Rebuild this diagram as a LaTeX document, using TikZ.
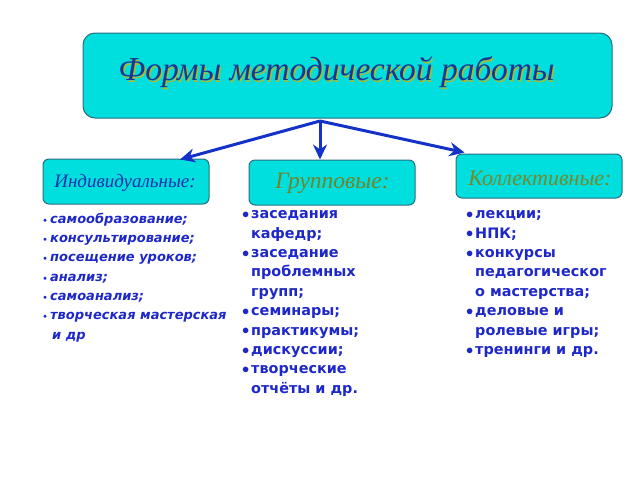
\documentclass[tikz,border=0pt]{standalone}
\usepackage{fontspec}
\setmainfont{Liberation Serif}
\newfontfamily\listfont{DejaVu Sans}
\usetikzlibrary{arrows.meta}
\definecolor{boxfill}{RGB}{0,222,222}
\definecolor{boxedge}{RGB}{40,110,130}
\definecolor{arrowblue}{RGB}{20,50,200}
\definecolor{titleblue}{RGB}{25,55,140}
\definecolor{shadowgreen}{RGB}{160,190,60}
\definecolor{headblue}{RGB}{25,50,170}
\definecolor{olive}{RGB}{120,135,40}
\definecolor{listblue}{RGB}{30,40,200}
\newcommand{\bl}{\makebox[7pt][l]{\raisebox{1pt}{\scriptsize$\bullet$}}}
\newcommand{\bb}{\makebox[9pt][l]{\raisebox{0.3pt}{\Large$\bullet$}}}
\newcommand{\ii}{\hspace*{9pt}}
\tikzset{
  panel/.style={draw=boxedge, line width=1pt, fill=boxfill, rounded corners=6pt, inner sep=0pt},
  arr/.style={draw=arrowblue, line width=3pt, -{Stealth[length=15pt,width=14pt]}},
  listtext/.style={anchor=north west, inner sep=0pt, align=left, text=listblue, font=\listfont\bfseries\fontsize{14.4}{19.4}\selectfont},
  headtext/.style={inner sep=0pt, font=\itshape\fontsize{22}{24}\selectfont},
}
\begin{document}
\begin{tikzpicture}[x=1pt,y=-1pt]
\useasboundingbox (0,0) rectangle (640,480);
% top box
\node[panel, rounded corners=12pt, minimum width=529pt, minimum height=85pt] (title) at (347.5,75.5) {};
\node[headtext, font=\itshape\fontsize{33.5}{36}\selectfont, text=shadowgreen] (titlesh) at (338,74) {Формы методической работы};
\node[headtext, font=\itshape\fontsize{33.5}{36}\selectfont, text=titleblue] (titletx) at (336.5,72.5) {Формы методической работы};
% sub boxes
\node[panel, minimum width=166pt, minimum height=45pt] (ind) at (126,181.5) {};
\node[panel, minimum width=166pt, minimum height=45pt] (grp) at (332,182.5) {};
\node[panel, minimum width=166pt, minimum height=44pt] (kol) at (539,176) {};
\node[headtext, font=\itshape\fontsize{19}{22}\selectfont, text=headblue] (indtx) at (125,183) {Индивидуальные:};
\node[headtext, font=\itshape\fontsize{23.5}{26}\selectfont, text=shadowgreen!70!black] (grptx) at (332.5,183) {Групповые:};
\node[headtext, text=olive] (koltx) at (540,178) {Коллективные:};
% arrows
\coordinate (hub) at (320,121);
\draw[arr] (hub) -- ([xshift=54pt,yshift=-1pt]ind.north);
\draw[arr] (hub) -- ([xshift=-12pt]grp.north);
\draw[arr] (hub) -- ([xshift=9pt,yshift=1pt]kol.north west);
% lists
\node[listtext, font=\listfont\bfseries\itshape\fontsize{13}{19.35}\selectfont] (indlist) at (43,212.5) {\bl самообразование;\\ \bl консультирование;\\ \bl посещение уроков;\\ \bl анализ;\\ \bl самоанализ;\\ \bl творческая мастерская\\ \ii и др};
\node[listtext] (grplist) at (242,210.5) {\bb заседания\\ \ii кафедр;\\ \bb заседание\\ \ii проблемных\\ \ii групп;\\ \bb семинары;\\ \bb практикумы;\\ \bb дискуссии;\\ \bb творческие\\ \ii отчёты и др.};
\node[listtext] (kollist) at (466,210.5) {\bb лекции;\\ \bb НПК;\\ \bb конкурсы\\ \ii педагогическог\\ \ii о мастерства;\\ \bb деловые и\\ \ii ролевые игры;\\ \bb тренинги и др.};
\end{tikzpicture}
\end{document}
